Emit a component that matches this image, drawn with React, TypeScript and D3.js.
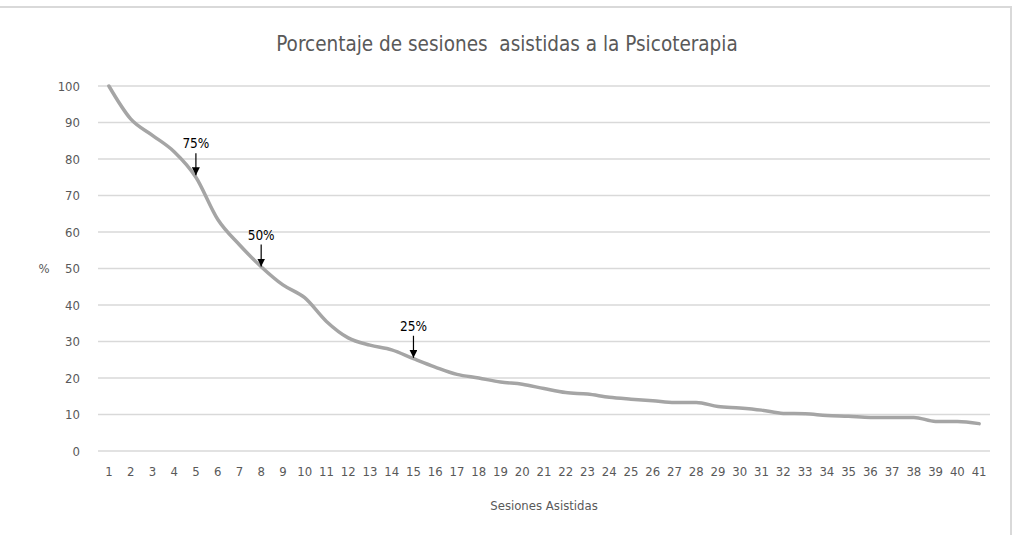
import React, { useEffect, useRef } from "react";
import * as d3 from "d3";

// sessions attended (x categories) and % of patients still attending
const sesiones = d3.range(1, 42).map(String);
const porcentaje = [
  100, 91, 86.5, 82, 75, 63.5, 56.5, 50.5, 45.5, 42,
  35.5, 31, 29, 27.7, 25.3, 23, 21, 20, 18.9, 18.3,
  17.1, 16, 15.6, 14.7, 14.2, 13.8, 13.3, 13.3, 12.2, 11.8,
  11.2, 10.3, 10.2, 9.7, 9.5, 9.2, 9.2, 9.2, 8.1, 8.1, 7.5,
];
const yTicks = [0, 10, 20, 30, 40, 50, 60, 70, 80, 90, 100];
const marcas = [
  { sesion: "5", valor: 75, texto: "75%" },
  { sesion: "8", valor: 50, texto: "50%" },
  { sesion: "15", valor: 25, texto: "25%" },
];

const W = 1016, H = 535;
const font = "'Liberation Sans Narrow', 'DejaVu Sans Condensed', sans-serif";

const drawChart = (node: SVGSVGElement) => {
  const svg = d3.select(node);
  svg.selectAll("*").remove();

  const margin = { top: 86, right: 26, bottom: 84, left: 98 };
  const width = W - margin.left - margin.right;
  const height = H - margin.top - margin.bottom;

  // chart frame (top + right edges visible in the screenshot)
  svg.append("path")
    .attr("d", `M0,7 H1011 V${H}`)
    .attr("fill", "none")
    .attr("stroke", "#d9d9d9")
    .attr("stroke-width", 2);

  svg.append("text")
    .attr("x", 507).attr("y", 51)
    .attr("text-anchor", "middle")
    .attr("font-family", font)
    .attr("font-size", 20.5)
    .attr("fill", "#595959")
    .style("white-space", "pre")
    .text("Porcentaje de sesiones  asistidas a la Psicoterapia");

  const g = svg.append("g").attr("transform", `translate(${margin.left},${margin.top})`);

  const x = d3.scaleBand().domain(sesiones).range([0, width]);
  const y = d3.scaleLinear().domain([0, 100]).range([height, 0]);
  const cx = (s: string) => (x(s) ?? 0) + x.bandwidth() / 2;

  // gridlines
  g.append("g")
    .selectAll("line")
    .data(yTicks)
    .join("line")
    .attr("x1", 0).attr("x2", width)
    .attr("y1", (d) => y(d)).attr("y2", (d) => y(d))
    .attr("stroke", "#d9d9d9")
    .attr("stroke-width", 1.3);

  // y axis labels
  g.append("g")
    .selectAll("text")
    .data(yTicks)
    .join("text")
    .attr("x", -18).attr("y", (d) => y(d))
    .attr("dy", "0.35em")
    .attr("text-anchor", "end")
    .attr("font-family", font)
    .attr("font-size", 13)
    .attr("fill", "#595959")
    .text((d) => d);

  // x axis labels
  g.append("g")
    .selectAll("text")
    .data(sesiones)
    .join("text")
    .attr("x", (d) => cx(d)).attr("y", height + 25)
    .attr("text-anchor", "middle")
    .attr("font-family", font)
    .attr("font-size", 13)
    .attr("fill", "#595959")
    .text((d) => d);

  g.append("text")
    .attr("x", width / 2).attr("y", height + 59)
    .attr("text-anchor", "middle")
    .attr("font-family", font)
    .attr("font-size", 13)
    .attr("fill", "#595959")
    .text("Sesiones Asistidas");

  g.append("text")
    .attr("x", -54).attr("y", y(50))
    .attr("dy", "0.35em")
    .attr("text-anchor", "middle")
    .attr("font-family", font)
    .attr("font-size", 13)
    .attr("fill", "#595959")
    .text("%");

  // the line
  const line = d3.line<number>()
    .x((d, i) => cx(sesiones[i]))
    .y((d) => y(d))
    .curve(d3.curveMonotoneX);

  g.append("path")
    .datum(porcentaje)
    .attr("fill", "none")
    .attr("stroke", "#a5a5a5")
    .attr("stroke-width", 3.5)
    .attr("stroke-linecap", "round")
    .attr("d", line);

  // arrow annotations
  svg.append("defs").append("marker")
    .attr("id", "flecha")
    .attr("viewBox", "0 0 10 10")
    .attr("refX", 10).attr("refY", 5)
    .attr("markerWidth", 8).attr("markerHeight", 8)
    .attr("markerUnits", "userSpaceOnUse")
    .attr("orient", "auto")
    .append("path")
    .attr("d", "M0,0 L10,5 L0,10 Z")
    .attr("fill", "#000");

  const ann = g.append("g").selectAll("g").data(marcas).join("g");
  ann.append("line")
    .attr("x1", (d) => cx(d.sesion)).attr("x2", (d) => cx(d.sesion))
    .attr("y1", (d) => y(d.valor) - 24).attr("y2", (d) => y(d.valor) - 2)
    .attr("stroke", "#000")
    .attr("stroke-width", 1.2)
    .attr("marker-end", "url(#flecha)");
  ann.append("text")
    .attr("x", (d) => cx(d.sesion)).attr("y", (d) => y(d.valor) - 29)
    .attr("text-anchor", "middle")
    .attr("font-family", font)
    .attr("font-size", 13.5)
    .attr("fill", "#000")
    .text((d) => d.texto);
};

export default function App() {
  const ref = useRef<SVGSVGElement>(null);
  useEffect(() => {
    if (ref.current) drawChart(ref.current);
  }, []);
  return (
    <svg
      ref={ref}
      width={W}
      height={H}
      style={{ position: "absolute", left: 0, top: 0, background: "#fff" }}
    />
  );
}
